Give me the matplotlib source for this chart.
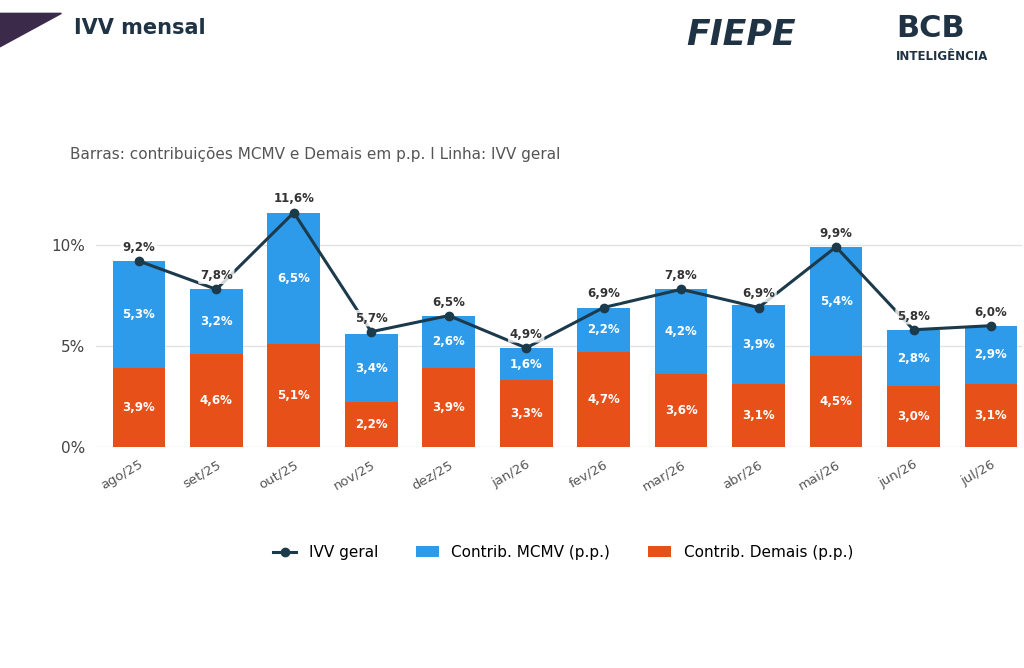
import matplotlib
matplotlib.use("Agg")
import matplotlib.pyplot as plt
import numpy as np

months = ["ago/25","set/25","out/25","nov/25","dez/25","jan/26","fev/26","mar/26","abr/26","mai/26","jun/26","jul/26"]
mcmv = [5.3,3.2,6.5,3.4,2.6,1.6,2.2,4.2,3.9,5.4,2.8,2.9]
demais = [3.9,4.6,5.1,2.2,3.9,3.3,4.7,3.6,3.1,4.5,3.0,3.1]
ivv = [9.2,7.8,11.6,5.7,6.5,4.9,6.9,7.8,6.9,9.9,5.8,6.0]

def br(v): return f"{v:.1f}%".replace(".", ",")

fig = plt.figure(figsize=(10.24,6.68), dpi=100)
fig.patch.set_facecolor("white")
ax = fig.add_axes([0.094,0.331,0.904,0.378])
x = np.arange(len(months))
blue="#2E9BEA"; orange="#E8501A"; navy="#1B3A4B"
b1 = ax.bar(x, demais, 0.68, color=orange, zorder=2)
b2 = ax.bar(x, mcmv, 0.68, bottom=demais, color=blue, zorder=2)
ln, = ax.plot(x, ivv, color=navy, lw=2.2, marker="o", ms=6, zorder=3)
for i in range(len(x)):
    ax.text(x[i], demais[i]/2, br(demais[i]), ha="center", va="center", color="white", fontsize=8.5, fontweight="bold", zorder=4)
    ax.text(x[i], demais[i]+mcmv[i]/2, br(mcmv[i]), ha="center", va="center", color="white", fontsize=8.5, fontweight="bold", zorder=4)
    ax.text(x[i], ivv[i]+0.35, br(ivv[i]), ha="center", va="bottom", color="#333333", fontsize=8.5, fontweight="bold", zorder=4,
            bbox=dict(boxstyle="round,pad=0.15", fc="white", ec="none", alpha=0.8))
ax.set_ylim(0,12.5)
ax.set_xlim(-0.55, 11.4)
ax.set_yticks([0,5,10]); ax.set_yticklabels(["0%","5%","10%"], fontsize=11, color="#444444")
ax.set_xticks(x); ax.set_xticklabels(months, rotation=30, ha="right", rotation_mode="anchor", fontsize=9.5, color="#555555")
ax.grid(axis="y", color="#E3E3E3", lw=1, zorder=0)
for s in ax.spines.values(): s.set_visible(False)
ax.tick_params(length=0, pad=8)
fig.legend([ln,b2,b1],["IVV geral","Contrib. MCMV (p.p.)","Contrib. Demais (p.p.)"], loc="center", bbox_to_anchor=(0.55,0.173), ncol=3, frameon=False, fontsize=11, columnspacing=2.5, handlelength=1.5)

fig.text(0.068,0.768,"Barras: contribuições MCMV e Demais em p.p. I Linha: IVV geral", fontsize=11, color="#555555", va="center")
fig.text(0.072,0.958,"IVV mensal", fontsize=15, fontweight="bold", color="#1F3344", va="center")
fig.patches.append(plt.Polygon([[0,0.98],[0.06,0.98],[0,0.93]], closed=True, transform=fig.transFigure, color="#3B2A4A"))
fig.text(0.67,0.948,"FIEPE", fontsize=25, fontweight="bold", style="italic", color="#1F3344", va="center")
fig.text(0.875,0.958,"BCB", fontsize=22, fontweight="bold", color="#1F3344", va="center")
fig.text(0.875,0.915,"INTELIGÊNCIA", fontsize=8.5, fontweight="bold", color="#1F3344", va="center")
fig.savefig("out.png", dpi=100)
